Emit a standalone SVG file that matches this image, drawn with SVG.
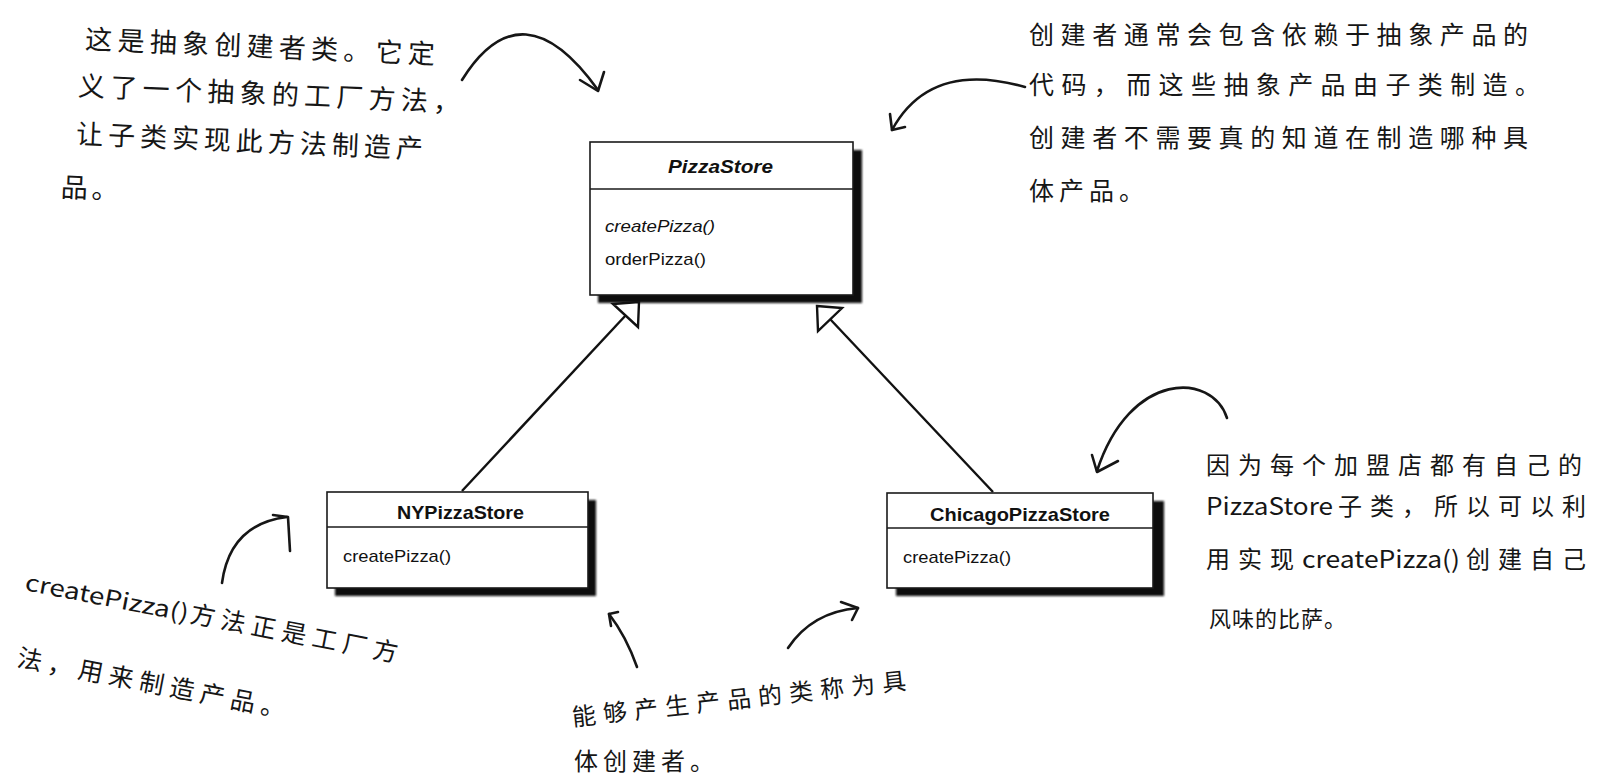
<svg xmlns="http://www.w3.org/2000/svg" width="1613" height="774" viewBox="0 0 1613 774">
<defs>
<filter id="sh" x="-5%" y="-5%" width="115%" height="120%"><feGaussianBlur stdDeviation="0.8"/></filter>
</defs>
<style>
.box{fill:#fff;stroke:#1a1a1a;stroke-width:1.6}
.shadow{fill:#111;filter:url(#sh)}
.div{stroke:#1a1a1a;stroke-width:1.4}
.title{font-family:"Liberation Sans",Arial,sans-serif;font-weight:bold;font-size:19px;fill:#111}
.meth{font-family:"Liberation Sans",Arial,sans-serif;font-size:17px;fill:#111}
.hand{font-family:"Noto Sans CJK SC","Noto Sans",sans-serif;fill:#161616}
.curve{fill:none;stroke:#161616;stroke-width:2.6;stroke-linecap:round;stroke-linejoin:round}
.link{fill:none;stroke:#111;stroke-width:2.4}
.tri{fill:#fff;stroke:#111;stroke-width:2.4;stroke-linejoin:miter}
</style>
<rect width="1613" height="774" fill="#fff"/>

<g id="connectors">
<line class="link" x1="626" y1="315" x2="462" y2="491"/>
<line class="link" x1="830" y1="319" x2="993" y2="492"/>
</g>

<g id="PizzaStore">
<rect class="shadow" x="598" y="150" width="264" height="153"/>
<rect class="box" x="590" y="142" width="263" height="153"/>
<line class="div" x1="590" y1="189" x2="853" y2="189"/>
<text class="title" x="668" y="173" font-style="italic" textLength="105" lengthAdjust="spacingAndGlyphs">PizzaStore</text>
<text class="meth" x="605" y="232" font-style="italic" textLength="110" lengthAdjust="spacingAndGlyphs">createPizza()</text>
<text class="meth" x="605" y="265" textLength="101" lengthAdjust="spacingAndGlyphs">orderPizza()</text>
</g>

<g id="inherit-heads">
<polygon class="tri" points="639,302 613,304 638,327"/>
<polygon class="tri" points="817,306 842,308 818,331"/>
</g>

<g id="NYPizzaStore">
<rect class="shadow" x="335" y="500" width="261" height="96"/>
<rect class="box" x="327" y="492" width="261" height="96"/>
<line class="div" x1="327" y1="527" x2="588" y2="527"/>
<text class="title" x="397" y="519" textLength="127" lengthAdjust="spacingAndGlyphs">NYPizzaStore</text>
<text class="meth" x="343" y="562" textLength="108" lengthAdjust="spacingAndGlyphs">createPizza()</text>
</g>

<g id="ChicagoPizzaStore">
<rect class="shadow" x="896" y="501" width="268" height="95"/>
<rect class="box" x="887" y="493" width="266" height="95"/>
<line class="div" x1="887" y1="528" x2="1153" y2="528"/>
<text class="title" x="930" y="521" textLength="180" lengthAdjust="spacingAndGlyphs">ChicagoPizzaStore</text>
<text class="meth" x="903" y="563" textLength="108" lengthAdjust="spacingAndGlyphs">createPizza()</text>
</g>

<g id="note-abstract-creator">
<g transform="rotate(2.5 250 118)">
<text class="hand" font-size="27" letter-spacing="5.3" x="82" y="56">这是抽象创建者类。它定</text>
<text class="hand" font-size="27" letter-spacing="5.3" x="77" y="103">义了一个抽象的工厂方法，</text>
<text class="hand" font-size="27" letter-spacing="5" x="77" y="151">让子类实现此方法制造产</text>
<text class="hand" font-size="27" letter-spacing="4" x="64" y="205">品。</text>
</g>
<path class="curve" d="M462,80 Q522,-16 598,90"/>
<path class="curve" d="M580,80 L598,91 L604,72"/>
</g>

<g id="note-creator-code">
<text class="hand" font-size="25" letter-spacing="6.6" x="1029" y="44">创建者通常会包含依赖于抽象产品的</text>
<text class="hand" font-size="25" letter-spacing="7.4" x="1029" y="94">代码，而这些抽象产品由子类制造。</text>
<text class="hand" font-size="25" letter-spacing="6.6" x="1029" y="147">创建者不需要真的知道在制造哪种具</text>
<text class="hand" font-size="25" letter-spacing="5" x="1029" y="200">体产品。</text>
<path class="curve" d="M1025,87 Q930,60 892,130"/>
<path class="curve" d="M890,114 L892,130 L905,127"/>
</g>

<g id="note-subclass">
<text class="hand" font-size="24" letter-spacing="8" x="1206" y="474">因为每个加盟店都有自己的</text>
<text class="hand" font-size="24" x="1206" y="515" textLength="127" lengthAdjust="spacingAndGlyphs">PizzaStore</text>
<text class="hand" font-size="24" letter-spacing="8" x="1338" y="515">子类，所以可以利</text>
<text class="hand" font-size="24" letter-spacing="8" x="1206" y="568">用实现</text>
<text class="hand" font-size="24" x="1302" y="568" textLength="158" lengthAdjust="spacingAndGlyphs">createPizza()</text>
<text class="hand" font-size="24" letter-spacing="8" x="1466" y="568">创建自己</text>
<text class="hand" font-size="22" letter-spacing="1" x="1209" y="627">风味的比萨。</text>
<path class="curve" d="M1227,418 C1212,372 1130,370 1097,471"/>
<path class="curve" d="M1092,455 L1097,472 L1118,461"/>
</g>

<g id="note-factory-method">
<g transform="rotate(11 24 590)">
<text class="hand" font-size="23" x="24" y="590" textLength="166" lengthAdjust="spacingAndGlyphs">createPizza()</text>
<text class="hand" font-size="25" letter-spacing="6" x="192" y="590">方法正是工厂方</text>
</g>
<g transform="rotate(11 16 666)">
<text class="hand" font-size="25" letter-spacing="6" x="16" y="666">法，用来制造产品。</text>
</g>
<path class="curve" d="M222,583 Q230,524 287,517"/>
<path class="curve" d="M273,515 L288,517 L290,551"/>
</g>

<g id="note-concrete-creator">
<g transform="rotate(-6.3 573 726)">
<text class="hand" font-size="24" letter-spacing="7.2" x="573" y="726">能够产生产品的类称为具</text>
</g>
<text class="hand" font-size="24" letter-spacing="5" x="574" y="770">体创建者。</text>
<path class="curve" d="M637,667 Q626,636 609,614"/>
<path class="curve" d="M618,612 L609,614 L611,626"/>
<path class="curve" d="M788,648 Q812,612 858,608"/>
<path class="curve" d="M841,602 L858,608 L852,620"/>
</g>
</svg>
